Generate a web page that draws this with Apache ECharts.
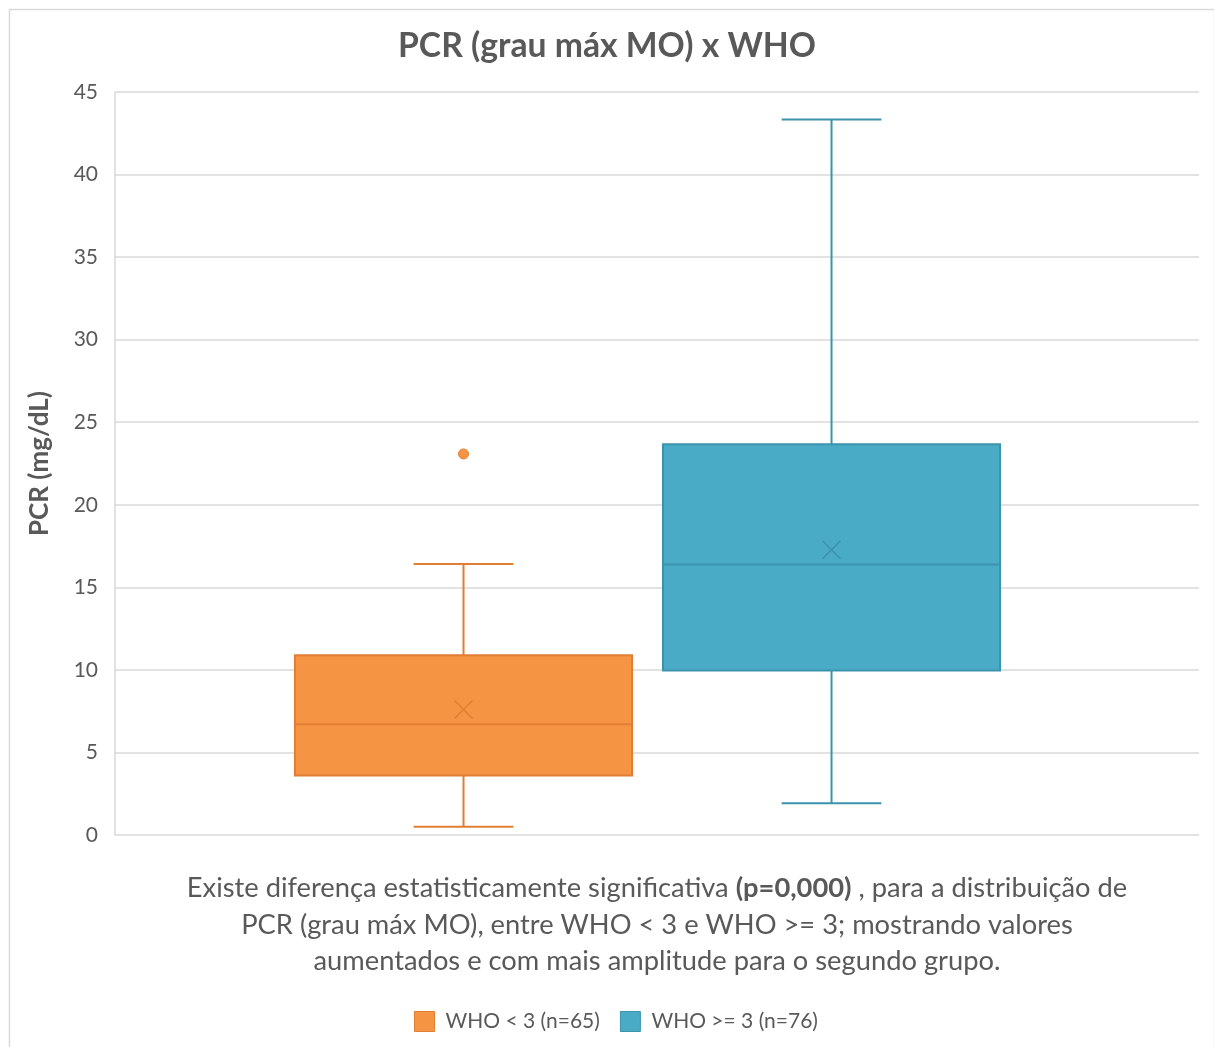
<!DOCTYPE html>
<html>
<head>
<meta charset="utf-8">
<title>PCR (grau máx MO) x WHO</title>
<script src="https://cdn.jsdelivr.net/npm/echarts@6/dist/echarts.min.js"></script>
<style>
  html, body { margin: 0; padding: 0; background: #ffffff; }
  #chart { width: 1214px; height: 1047px; }
</style>
</head>
<body>
<div id="chart"></div>
<script>
// ---- data ----
const categories = ['PCR (grau máx MO)'];
const groupNames = ['WHO < 3 (n=65)', 'WHO >= 3 (n=76)'];
// [min whisker, Q1, median, Q3, max whisker]
const lowGroupStats = [0.50, 3.61, 6.71, 10.89, 16.41];
const highGroupStats = [1.92, 9.97, 16.39, 23.67, 43.33];
const groupMeans = [7.60, 17.28];
const lowGroupOutliers = [23.08];
const highGroupOutliers = [];
const yTicks = [0, 5, 10, 15, 20, 25, 30, 35, 40, 45];

// ---- styling ----
const FONT = 'Lato, "Open Sans", sans-serif';
const TEXT = '#595959';
const GRID_LINE = '#d9d9d9';
const palette = [
  { fill: '#F59443', line: '#E17E34' },
  { fill: '#4AABC6', line: '#3B93AC' }
];
// horizontal placement inside the category band (fraction of band width)
const groupOffsets = [-0.1785, 0.161];
const BOX_FRAC = 0.311;
const CAP_FRAC = 0.092;

function boxRenderer(groupIdx) {
  const col = palette[groupIdx];
  return function (params, api) {
    const cat = api.value(0);
    const band = api.size([1, 0])[0];
    const cx = api.coord([cat, 0])[0] + groupOffsets[groupIdx] * band;
    const yOf = (dim) => api.coord([cat, api.value(dim)])[1];
    const yMin = yOf(1), yQ1 = yOf(2), yMed = yOf(3), yQ3 = yOf(4), yMax = yOf(5), yMean = yOf(6);
    const hb = band * BOX_FRAC / 2;
    const hc = band * CAP_FRAC / 2;
    const lineStyle = { stroke: col.line, lineWidth: 2 };
    const m = 9;
    return {
      type: 'group',
      children: [
        { type: 'line', shape: { x1: cx, y1: yQ3, x2: cx, y2: yMax }, style: lineStyle },
        { type: 'line', shape: { x1: cx - hc, y1: yMax, x2: cx + hc, y2: yMax }, style: lineStyle },
        { type: 'line', shape: { x1: cx, y1: yQ1, x2: cx, y2: yMin }, style: lineStyle },
        { type: 'line', shape: { x1: cx - hc, y1: yMin, x2: cx + hc, y2: yMin }, style: lineStyle },
        { type: 'rect', shape: { x: cx - hb, y: yQ3, width: hb * 2, height: yQ1 - yQ3 },
          style: { fill: col.fill, stroke: col.line, lineWidth: 2 } },
        { type: 'line', shape: { x1: cx - hb, y1: yMed, x2: cx + hb, y2: yMed }, style: lineStyle },
        { type: 'line', shape: { x1: cx - m, y1: yMean - m, x2: cx + m, y2: yMean + m },
          style: { stroke: col.line, lineWidth: 1.5 } },
        { type: 'line', shape: { x1: cx - m, y1: yMean + m, x2: cx + m, y2: yMean - m },
          style: { stroke: col.line, lineWidth: 1.5 } }
      ]
    };
  };
}

function outlierRenderer(groupIdx) {
  const col = palette[groupIdx];
  return function (params, api) {
    const cat = api.value(0);
    const band = api.size([1, 0])[0];
    const pt = api.coord([cat, api.value(1)]);
    return {
      type: 'circle',
      shape: { cx: pt[0] + groupOffsets[groupIdx] * band, cy: pt[1], r: 5 },
      style: { fill: col.fill, stroke: col.line, lineWidth: 1 }
    };
  };
}

const statsByGroup = [lowGroupStats, highGroupStats];
const outliersByGroup = [lowGroupOutliers, highGroupOutliers];

const series = [];
groupNames.forEach((name, g) => {
  series.push({
    type: 'custom',
    name: name,
    renderItem: boxRenderer(g),
    itemStyle: { color: palette[g].fill, borderColor: palette[g].line, borderWidth: 1 },
    encode: { x: 0, y: [1, 2, 3, 4, 5, 6] },
    data: [[0].concat(statsByGroup[g], [groupMeans[g]])],
    z: 3
  });
  series.push({
    type: 'custom',
    name: name,
    renderItem: outlierRenderer(g),
    itemStyle: { color: palette[g].fill, borderColor: palette[g].line, borderWidth: 1 },
    encode: { x: 0, y: 1 },
    data: outliersByGroup[g].map(v => [0, v]),
    z: 4
  });
});

const chart = echarts.init(document.getElementById('chart'), null, { renderer: 'canvas' });
chart.setOption({
  backgroundColor: '#ffffff',
  animation: false,
  textStyle: { fontFamily: FONT },
  title: {
    text: 'PCR (grau máx MO) x WHO',
    left: 'center',
    top: 24,
    textStyle: { fontFamily: FONT, fontSize: 33.7, fontWeight: 'bold', color: TEXT }
  },
  grid: { left: 115, right: 15, top: 92, bottom: 212, containLabel: false },
  xAxis: {
    type: 'category',
    data: categories,
    axisLine: { show: false },
    axisTick: { show: false },
    axisLabel: { show: false },
    splitLine: { show: false }
  },
  yAxis: {
    type: 'value',
    min: yTicks[0],
    max: yTicks[yTicks.length - 1],
    interval: 5,
    name: 'PCR (mg/dL)',
    nameLocation: 'middle',
    nameRotate: 90,
    nameGap: 62,
    nameTextStyle: { fontFamily: FONT, fontSize: 26, fontWeight: 'bold', color: TEXT },
    axisLine: { show: true, lineStyle: { color: GRID_LINE, width: 1.5 } },
    axisTick: { show: false },
    axisLabel: { fontFamily: FONT, fontSize: 21, color: TEXT, margin: 17 },
    splitLine: { show: true, lineStyle: { color: GRID_LINE, width: 1.5 } }
  },
  legend: {
    left: 414,
    top: 1011,
    padding: 0,
    icon: 'rect',
    itemWidth: 20,
    itemHeight: 20,
    itemGap: 20,
    data: groupNames.map((n, g) => ({
      name: n,
      itemStyle: { color: palette[g].fill, borderColor: palette[g].line, borderWidth: 1 }
    })),
    textStyle: { fontFamily: FONT, fontSize: 21, color: TEXT, padding: [0, 0, 0, 6] }
  },
  graphic: [
    {
      type: 'rect',
      left: 7, top: 7,
      shape: { width: 1205, height: 1060 },
      style: { fill: 'none', stroke: '#d9d9d9', lineWidth: 1.5 },
      silent: true, z: -10
    },
    {
      type: 'text',
      x: 657,
      y: 870,
      style: {
        text: '{n|Existe diferença estatisticamente significativa }{b|(p=0,000)}{n| , para a distribuição de}\n' +
              '{n|PCR (grau máx MO), entre WHO < 3 e WHO >= 3; mostrando valores}\n' +
              '{n|aumentados e com mais amplitude para o segundo grupo.}',
        align: 'center',
        verticalAlign: 'top',
        fill: TEXT,
        rich: {
          n: { fontFamily: FONT, fontSize: 27.3, fill: TEXT, lineHeight: 36.5 },
          b: { fontFamily: FONT, fontSize: 27.3, fontWeight: 'bold', fill: TEXT, lineHeight: 36.5 }
        }
      }
    }
  ],
  series: series
});
</script>
</body>
</html>
